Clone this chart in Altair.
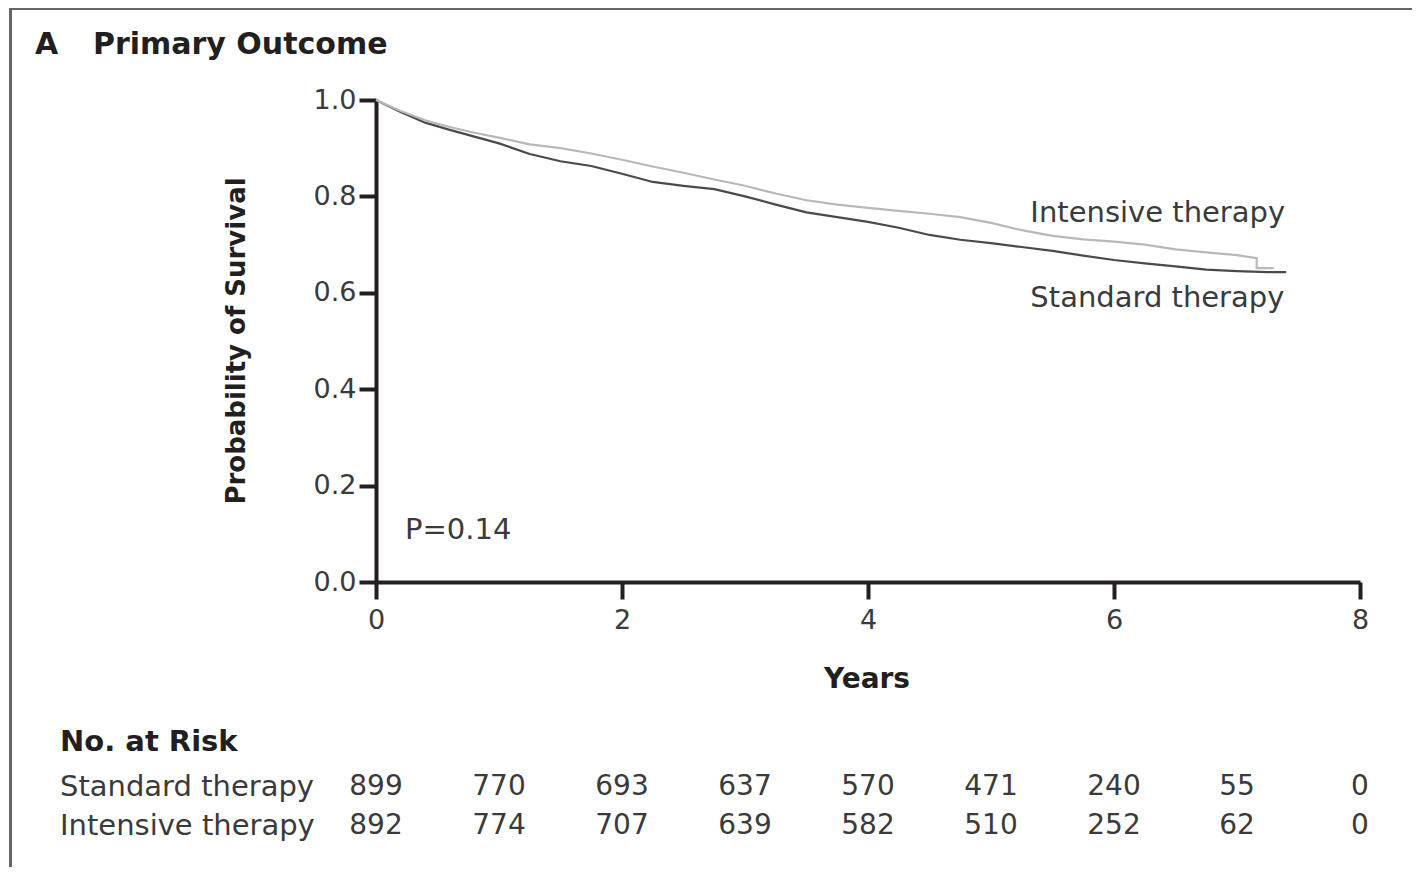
import altair as alt
import pandas as pd

# ---- data ----
std_t = [0, 0.2, 0.4, 0.6, 0.8, 1.0, 1.25, 1.5, 1.75, 2.0, 2.25, 2.5, 2.75, 3.0, 3.25, 3.5,
         3.75, 4.0, 4.25, 4.5, 4.75, 5.0, 5.25, 5.5, 5.75, 6.0, 6.25, 6.5, 6.75, 7.0, 7.25, 7.4]
std_p = [1.0, 0.975, 0.953, 0.938, 0.924, 0.910, 0.888, 0.873, 0.863, 0.847, 0.830, 0.822,
         0.815, 0.800, 0.783, 0.767, 0.757, 0.747, 0.735, 0.720, 0.710, 0.703, 0.695, 0.687,
         0.677, 0.668, 0.661, 0.655, 0.648, 0.645, 0.643, 0.643]

int_t = [0, 0.2, 0.4, 0.6, 0.8, 1.0, 1.25, 1.5, 1.75, 2.0, 2.25, 2.5, 2.75, 3.0, 3.25, 3.5,
         3.75, 4.0, 4.25, 4.5, 4.75, 5.0, 5.25, 5.5, 5.75, 6.0, 6.25, 6.5, 6.75, 7.0, 7.16, 7.16, 7.3]
int_p = [1.0, 0.977, 0.958, 0.944, 0.932, 0.922, 0.908, 0.900, 0.889, 0.876, 0.862, 0.849,
         0.835, 0.822, 0.806, 0.792, 0.783, 0.776, 0.770, 0.764, 0.757, 0.745, 0.730, 0.718,
         0.711, 0.706, 0.700, 0.690, 0.684, 0.678, 0.672, 0.651, 0.651]

risk_years = [0, 1, 2, 3, 4, 5, 6, 7, 8]
risk_standard = [899, 770, 693, 637, 570, 471, 240, 55, 0]
risk_intensive = [892, 774, 707, 639, 582, 510, 252, 62, 0]

groups = ["Standard therapy", "Intensive therapy"]
x_ticks = [0, 2, 4, 6, 8]
y_ticks = [0.0, 0.2, 0.4, 0.6, 0.8, 1.0]

FONT = "DejaVu Sans"
DARK = "#231f20"
TXT = "#3a3a3a"

rows = []
for i, (t, p) in enumerate(zip(std_t, std_p)):
    rows.append({"group": groups[0], "t": t, "p": p, "o": i})
for i, (t, p) in enumerate(zip(int_t, int_p)):
    rows.append({"group": groups[1], "t": t, "p": p, "o": i})
curves = pd.DataFrame(rows)

W, H = 984, 482

xs = alt.Scale(domain=[0, 8], nice=False)
ys = alt.Scale(domain=[0, 1], nice=False)

lines = alt.Chart(curves).mark_line(strokeWidth=2.2).encode(
    x=alt.X("t:Q", scale=xs,
            axis=alt.Axis(values=x_ticks, title=None, format="d", grid=False,
                          tickSize=17, tickWidth=4, domainWidth=4, labelFlush=False,
                          domainColor=DARK, tickColor=DARK,
                          labelFont=FONT, labelFontSize=27, labelColor=TXT,
                          labelPadding=8)),
    y=alt.Y("p:Q", scale=ys,
            axis=alt.Axis(values=y_ticks, title=None, format=".1f", grid=False,
                          tickSize=17, tickWidth=4, domainWidth=4, labelFlush=False,
                          domainColor=DARK, tickColor=DARK,
                          labelFont=FONT, labelFontSize=27, labelColor=TXT,
                          labelPadding=3)),
    color=alt.Color("group:N", scale=alt.Scale(domain=groups, range=["#4a4a4a", "#b8b8b8"]),
                    legend=None),
    detail="group:N",
    order="o:Q",
)

# curve labels (data coordinates)
curve_lab = pd.DataFrame({"t": [5.32, 5.32], "p": [0.766, 0.589],
                          "label": ["Intensive therapy", "Standard therapy"]})
curve_text = alt.Chart(curve_lab).mark_text(
    align="left", baseline="middle", font=FONT, fontSize=29, color=TXT
).encode(x=alt.X("t:Q", scale=xs), y=alt.Y("p:Q", scale=ys), text="label:N")

pval = alt.Chart(pd.DataFrame({"t": [0.236], "p": [0.108], "label": ["P=0.14"]})).mark_text(
    align="left", baseline="middle", font=FONT, fontSize=29, color=TXT
).encode(x=alt.X("t:Q", scale=xs), y=alt.Y("p:Q", scale=ys), text="label:N")

# axis titles
x_title = alt.Chart(pd.DataFrame({"s": ["Years"]})).mark_text(
    align="center", baseline="middle", font=FONT, fontSize=28, fontWeight="bold", color=DARK
).encode(x=alt.value(491), y=alt.value(580), text="s:N")

y_title = alt.Chart(pd.DataFrame({"s": ["Probability of Survival"]})).mark_text(
    align="center", baseline="middle", font=FONT, fontSize=26, fontWeight="bold",
    color=DARK, angle=270
).encode(x=alt.value(-139), y=alt.value(241), text="s:N")

# panel title
panel_a = alt.Chart(pd.DataFrame({"s": ["A"]})).mark_text(
    align="left", baseline="middle", font=FONT, fontSize=30, fontWeight="bold", color=DARK
).encode(x=alt.value(-341), y=alt.value(-55), text="s:N")
panel_t = alt.Chart(pd.DataFrame({"s": ["Primary Outcome"]})).mark_text(
    align="left", baseline="middle", font=FONT, fontSize=30, fontWeight="bold", color=DARK
).encode(x=alt.value(-283), y=alt.value(-55), text="s:N")

# number at risk table
risk_df = pd.DataFrame(
    [{"year": y, "n": str(n), "row": groups[0]} for y, n in zip(risk_years, risk_standard)]
    + [{"year": y, "n": str(n), "row": groups[1]} for y, n in zip(risk_years, risk_intensive)]
)
risk_std = alt.Chart(risk_df[risk_df.row == groups[0]]).mark_text(
    align="center", baseline="middle", font=FONT, fontSize=28, color=TXT
).encode(x=alt.X("year:Q", scale=xs), y=alt.value(687), text="n:N")
risk_int = alt.Chart(risk_df[risk_df.row == groups[1]]).mark_text(
    align="center", baseline="middle", font=FONT, fontSize=28, color=TXT
).encode(x=alt.X("year:Q", scale=xs), y=alt.value(726), text="n:N")

risk_head = alt.Chart(pd.DataFrame({"s": ["No. at Risk"]})).mark_text(
    align="left", baseline="middle", font=FONT, fontSize=29, fontWeight="bold", color=DARK
).encode(x=alt.value(-316), y=alt.value(642), text="s:N")
row_lab = alt.Chart(pd.DataFrame({"s": groups, "yy": [687, 726]})).mark_text(
    align="left", baseline="middle", font=FONT, fontSize=29, color=TXT
).encode(x=alt.value(-316), y=alt.Y("yy:Q", scale=None), text="s:N")

# frame (top and left edges)
frame_top = alt.Chart(pd.DataFrame({"a": [0]})).mark_rule(color="#666666", strokeWidth=3).encode(
    x=alt.value(-367), x2=alt.value(1100), y=alt.value(-91.5))
frame_left = alt.Chart(pd.DataFrame({"a": [0]})).mark_rule(color="#666666", strokeWidth=3).encode(
    x=alt.value(-365.5), y=alt.value(-93), y2=alt.value(800))

chart = alt.layer(
    frame_top, frame_left, lines, curve_text, pval, x_title, y_title,
    panel_a, panel_t, risk_head, row_lab, risk_std, risk_int
).properties(
    width=W, height=H,
    autosize=alt.AutoSizeParams(type="none"),
    padding={"left": 368, "top": 92, "right": 52, "bottom": 285},
).configure(background="white").configure_view(stroke=None, strokeWidth=0)

chart.save("out.html", embed_options={"renderer": "svg", "actions": False})
